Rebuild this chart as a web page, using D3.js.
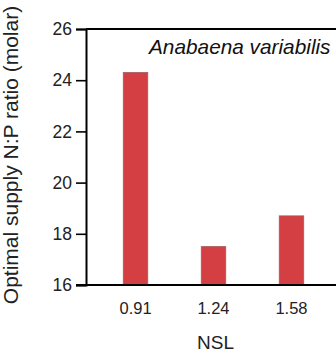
<!DOCTYPE html>
<html><head><meta charset="utf-8">
<script src="https://cdn.jsdelivr.net/npm/d3@7"></script>
<style>
html,body{margin:0;padding:0;background:#fff;overflow:hidden}
text{font-family:"Liberation Sans",Arial,Helvetica,sans-serif}
</style></head>
<body><svg id="c" width="336" height="354"></svg>
<script>
const categories = ["0.91", "1.24", "1.58"];
const values = [24.3, 17.5, 18.7];
const yTicks = [16, 18, 20, 22, 24, 26];
const title = "Anabaena variabilis";
const xTitle = "NSL";
const yTitle = "Optimal supply N:P ratio (molar)";

const svg = d3.select("#c");
const mLeft = 86, mRight = 341, mTop = 29, mBottom = 285;

const x = d3.scaleBand().domain(categories).range([mLeft, mRight])
  .paddingInner(0.686).paddingOuter(0.478);
const y = d3.scaleLinear().domain([16, 26]).range([mBottom, mTop]);

// bars
svg.append("g").selectAll("rect").data(values).join("rect")
  .attr("x", (d, i) => x(categories[i]))
  .attr("width", x.bandwidth())
  .attr("y", d => y(d))
  .attr("height", d => y(16) - y(d))
  .attr("fill", "#d43f44")
  .attr("stroke", "#a8575a")
  .attr("stroke-width", 0.8);

// frame top
svg.append("line").attr("x1", mLeft).attr("x2", 336).attr("y1", mTop).attr("y2", mTop)
  .attr("stroke", "#000").attr("stroke-width", 2);

// y axis
const ya = svg.append("g").attr("transform", `translate(${mLeft},0)`)
  .call(d3.axisLeft(y).tickValues(yTicks).tickSize(10).tickPadding(4).tickFormat(d3.format("d")));
ya.select(".domain").attr("stroke", "#000").attr("stroke-width", 2);
ya.selectAll(".tick line").attr("stroke", "#000").attr("stroke-width", 1.6);
ya.selectAll(".tick text").attr("font-size", 17.5).attr("fill", "#222")
  .attr("font-family", "Liberation Sans, Arial, sans-serif");

// x axis
const xa = svg.append("g").attr("transform", `translate(0,${mBottom})`)
  .call(d3.axisBottom(x).tickSize(0).tickPadding(17));
xa.select(".domain").remove();
xa.selectAll(".tick text").attr("font-size", 16.5).attr("fill", "#222")
  .attr("font-family", "Liberation Sans, Arial, sans-serif");
svg.append("line").attr("x1", mLeft - 10).attr("x2", 336).attr("y1", mBottom).attr("y2", mBottom)
  .attr("stroke", "#000").attr("stroke-width", 2);

// titles
svg.append("text").attr("x", 149).attr("y", 54).attr("font-size", 20.8)
  .attr("font-style", "italic").attr("fill", "#111").text(title);
svg.append("text").attr("x", (mLeft + mRight) / 2 + 2).attr("y", 349)
  .attr("text-anchor", "middle").attr("font-size", 19).attr("fill", "#222").text(xTitle);
svg.append("text").attr("transform", "translate(18,155) rotate(-90)")
  .attr("text-anchor", "middle").attr("font-size", 21).attr("fill", "#222").text(yTitle);
</script></body></html>
